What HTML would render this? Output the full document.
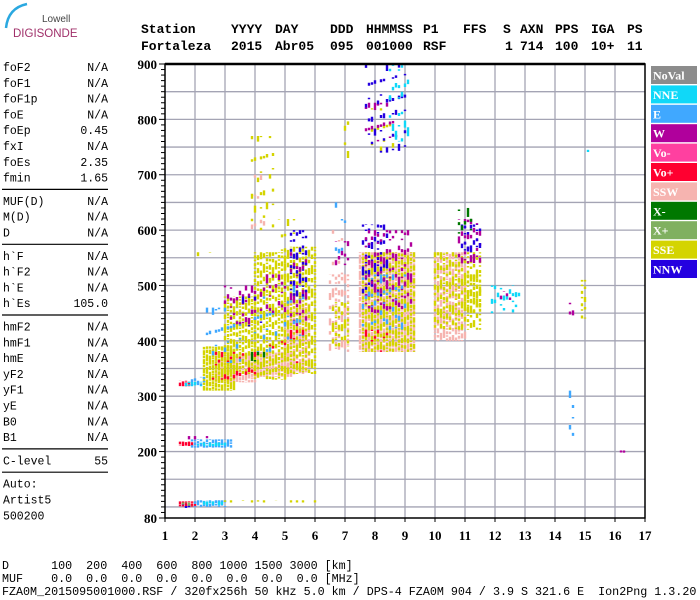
<!DOCTYPE html>
<html><head><meta charset="utf-8"><style>
body{margin:0;background:#fff;}
svg{display:block;}
.hdr{font-family:"Liberation Mono",monospace;font-weight:bold;font-size:13px;fill:#000;}
.lp{font-family:"Liberation Mono",monospace;font-size:11.5px;fill:#000;}
.ax{font-family:"Liberation Serif",serif;font-weight:bold;font-size:13px;fill:#000;}
.lg{font-family:"Liberation Serif",serif;font-weight:bold;font-size:12px;fill:#fff;}
.bt{font-family:"Liberation Mono",monospace;font-size:11.7px;fill:#000;}
</style></head><body>
<svg id="chart" width="700" height="600" viewBox="0 0 700 600" xmlns="http://www.w3.org/2000/svg">
<g>
<path d="M6 28 Q8 8 27 4" stroke="#2aa8e0" stroke-width="2.5" fill="none"/>
<text x="42" y="22" font-family="Liberation Sans,sans-serif" font-size="10" fill="#444">Lowell</text>
<text x="13" y="37" font-family="Liberation Sans,sans-serif" font-size="11.5" fill="#a0306a">DIGISONDE</text>
</g>
<g id="header"></g>
<g id="leftpanel"></g>
<g id="plot"></g>
<g id="legend"></g>
<g>
<text class="bt" x="2" y="569" xml:space="preserve">D      100  200  400  600  800 1000 1500 3000 [km]</text>
<text class="bt" x="2" y="582" xml:space="preserve">MUF    0.0  0.0  0.0  0.0  0.0  0.0  0.0  0.0 [MHz]</text>
<text class="bt" x="2" y="595" xml:space="preserve">FZA0M_2015095001000.RSF / 320fx256h 50 kHz 5.0 km / DPS-4 FZA0M 904 / 3.9 S 321.6 E  Ion2Png 1.3.20</text>
</g>
</svg>
<script>
const freqTicks=[1,2,3,4,5,6,7,8,9,10,11,12,13,14,15,16,17];
const heightTicks=[80,200,300,400,500,600,700,800,900];
const legendNames=['NoVal','NNE','E','W','Vo-','Vo+','SSW','X-','X+','SSE','NNW'];
const legendColors=['#8c8c8c','#10d8f8','#40a8ff','#b0009c','#ff40a0','#ff0030','#f6b4b0','#007800','#80b060','#d4d400','#2400e0'];
// echo blocks: [colorName, fStart, fEnd, hLow, hHigh, density]
const echoColor=['SSW','SSE','SSW','SSE','SSE','SSW','SSE','SSW','SSE','SSE','SSW','SSE','SSW','SSE','SSE','SSW','SSE','SSE','SSW','SSE','SSE'];
const echoF1=[2.7,2.3,4.0,3.0,4.0,5.0,5.0,7.5,7.6,3.9,6.5,6.6,10.0,10.0,11.0,3.9,7.9,7.0,6.6,4.8,14.9];
const echoF2=[4.0,3.3,5.3,4.0,5.0,5.8,6.0,9.3,9.3,4.6,7.1,7.1,11.0,11.5,11.5,4.3,8.6,7.1,6.9,5.3,15.0];
const echoHLo=[325,310,335,340,330,340,340,380,380,600,380,390,400,420,450,600,740,730,520,560,440];
const echoHHi=[375,390,380,480,560,470,570,560,560,770,520,470,560,560,520,700,820,820,600,620,510];
const echoD=[0.85,0.9,0.85,0.75,0.7,0.75,0.7,0.9,0.7,0.2,0.55,0.55,0.75,0.6,0.55,0.15,0.2,0.3,0.2,0.2,0.5];
const echo2Color=['Vo+','E','NNE','NNW','X+','SSE','Vo+','E','NNE','W','Vo+','NNE','E','E','W','Vo+','E','W','W','E','NNW','W','E','NNW','W','E','Vo+','NNW','W','NNE','W','NNW','X-','NNE','W','E','W','W','NNE','X-','Vo+','NNW','SSE'];
const echo2F1=[1.5,2.0,2.3,1.6,1.6,3.0,1.5,1.9,2.1,1.8,1.5,1.7,1.9,2.4,3.0,2.6,4.0,4.2,5.2,5.0,5.2,6.7,6.7,7.6,7.7,7.6,7.7,7.7,7.7,8.5,10.8,10.9,10.8,11.9,12.2,14.5,14.5,16.2,15.0,3.9,4.5,3.5,2.0];
const echo2F2=[2.0,3.0,2.9,1.8,1.9,6.0,1.9,3.2,3.0,2.6,1.8,2.2,2.3,3.5,4.0,4.0,4.7,5.0,5.7,5.6,5.7,7.1,7.0,8.4,9.2,9.0,8.4,9.0,8.6,9.1,11.5,11.5,11.2,12.8,12.5,14.6,14.6,16.3,15.1,4.3,5.6,4.3,2.5];
const echo2HLo=[100,100,103,98,102,108,210,207,210,222,318,318,320,360,430,330,380,450,420,400,480,520,540,480,450,420,380,740,760,760,540,560,590,450,470,220,440,198,735,330,360,420,540];
const echo2HHi=[110,112,110,104,108,112,218,222,216,228,328,326,335,460,500,380,480,520,560,500,600,580,650,610,600,520,420,900,830,900,620,610,640,500,490,310,470,202,745,380,420,480,560];
const echo2D=[0.9,0.8,0.7,0.8,0.6,0.1,0.9,0.8,0.7,0.3,0.8,0.7,0.6,0.2,0.35,0.25,0.2,0.3,0.35,0.2,0.4,0.3,0.15,0.4,0.35,0.25,0.25,0.2,0.2,0.25,0.4,0.4,0.3,0.4,0.3,0.25,0.4,0.9,0.6,0.15,0.15,0.1,0.1];

const NS='http://www.w3.org/2000/svg';
function mk(tag,parent,attrs){const e=document.createElementNS(NS,tag);for(const k in attrs)e.setAttribute(k,attrs[k]);parent.appendChild(e);return e;}
const X0=165,X1=645,Y0=64,Y1=518;
function xS(f){return X0+(f-1)*(X1-X0)/16;}
function yS(h){return Y1-(h-80)*(Y1-Y0)/820;}

const hdr=document.getElementById('header');
const hw1=[['Station',141],['YYYY',231],['DAY',275],['DDD',330],['HHMMSS',366],['P1',423],['FFS',463],['S',503],['AXN',520],['PPS',555],['IGA',591],['PS',627]];
const hw2=[['Fortaleza',141],['2015',231],['Abr05',275],['095',330],['001000',366],['RSF',423],['1',505],['714',520],['100',555],['10+',591],['11',627]];
hw1.forEach(w=>{const t=mk('text',hdr,{class:'hdr',x:w[1],y:33});t.textContent=w[0];});
hw2.forEach(w=>{const t=mk('text',hdr,{class:'hdr',x:w[1],y:50});t.textContent=w[0];});

const lp=document.getElementById('leftpanel');
const rows=[['foF2','N/A'],['foF1','N/A'],['foF1p','N/A'],['foE','N/A'],['foEp','0.45'],['fxI','N/A'],['foEs','2.35'],['fmin','1.65'],null,['MUF(D)','N/A'],['M(D)','N/A'],['D','N/A'],null,['h`F','N/A'],['h`F2','N/A'],['h`E','N/A'],['h`Es','105.0'],null,['hmF2','N/A'],['hmF1','N/A'],['hmE','N/A'],['yF2','N/A'],['yF1','N/A'],['yE','N/A'],['B0','N/A'],['B1','N/A'],null,['C-level','55'],null,['Auto:',''],['Artist5',''],['500200','']];
let yy=71;
rows.forEach(r=>{
 if(!r){mk('line',lp,{x1:2,x2:108,y1:yy-8,y2:yy-8,stroke:'#000','stroke-width':1.2});yy+=7.5;return;}
 const a=mk('text',lp,{class:'lp',x:3,y:yy});a.textContent=r[0];
 if(r[1]){const b=mk('text',lp,{class:'lp',x:108,y:yy,'text-anchor':'end'});b.textContent=r[1];}
 yy+=15.8;
});

const pl=document.getElementById('plot');
const grid=mk('g',pl,{});


for(let h=100;h<=850;h+=50){mk('line',grid,{x1:X0,x2:X1,y1:yS(h),y2:yS(h),stroke:'#a4a4b4','stroke-width':1.3});}
freqTicks.forEach(f=>{if(f>1&&f<17)mk('line',grid,{x1:xS(f),x2:xS(f),y1:Y0,y2:Y1,stroke:'#a4a4b4','stroke-width':1.3});});

const echoes=mk('g',pl,{});


function colOf(n){return legendColors[legendNames.indexOf(n)];}
function drawBlocks(C,F1,F2,HL,HH,D,tag){
 for(let i=0;i<C.length;i++){
  const g=mk('g',echoes,{});
  
  
  let k=0;
  for(let f=F1[i];f<=F2[i]+1e-6;f+=0.1,k++){
   const on=3+((k*5+i)%4)*2;
   const off=Math.max(0.01,on*(1-D[i])/D[i]);
   mk('line',g,{x1:xS(f),x2:xS(f),y1:yS(HH[i]),y2:yS(HL[i]),stroke:colOf(C[i]),'stroke-width':2.4,
    'stroke-dasharray':on+' '+off.toFixed(2)+' '+(on/2).toFixed(1)+' '+(off*1.6).toFixed(2),'stroke-dashoffset':((k*7+i*3)%13)*1.7});
  }
 }
}
drawBlocks(echoColor,echoF1,echoF2,echoHLo,echoHHi,echoD,'echo');
drawBlocks(echo2Color,echo2F1,echo2F2,echo2HLo,echo2HHi,echo2D,'echo-mode');

mk('rect',pl,{x:X0,y:Y0,width:X1-X0,height:Y1-Y0,fill:'none',stroke:'#000','stroke-width':1.5});
mk('line',pl,{x1:X0,x2:X1,y1:Y0,y2:Y0,stroke:'#000','stroke-width':2.5});
const yax=mk('g',pl,{});


for(let h=80;h<=900;h+=10){const maj=heightTicks.includes(h);mk('line',yax,{x1:X0-(maj?6:4),x2:X0,y1:yS(h),y2:yS(h),stroke:'#000','stroke-width':1});}
heightTicks.forEach(h=>{const t=mk('text',yax,{class:'ax',x:X0-8,y:yS(h)+5,'text-anchor':'end'});t.textContent=h;});
const xax=mk('g',pl,{});


freqTicks.forEach(f=>{mk('line',xax,{x1:xS(f),x2:xS(f),y1:Y1,y2:Y1+4,stroke:'#000'});const t=mk('text',xax,{class:'ax',x:xS(f),y:540,'text-anchor':'middle'});t.textContent=f;});

const lg=document.getElementById('legend');
legendNames.forEach((n,i)=>{
 const g=mk('g',lg,{});
 
 
 const y=66+i*19.4;
 mk('rect',g,{x:651,y:y,width:46,height:18,fill:legendColors[i]});
 const t=mk('text',g,{class:'lg',x:653,y:y+13.5});t.textContent=n;
});
</script>
</body></html>
